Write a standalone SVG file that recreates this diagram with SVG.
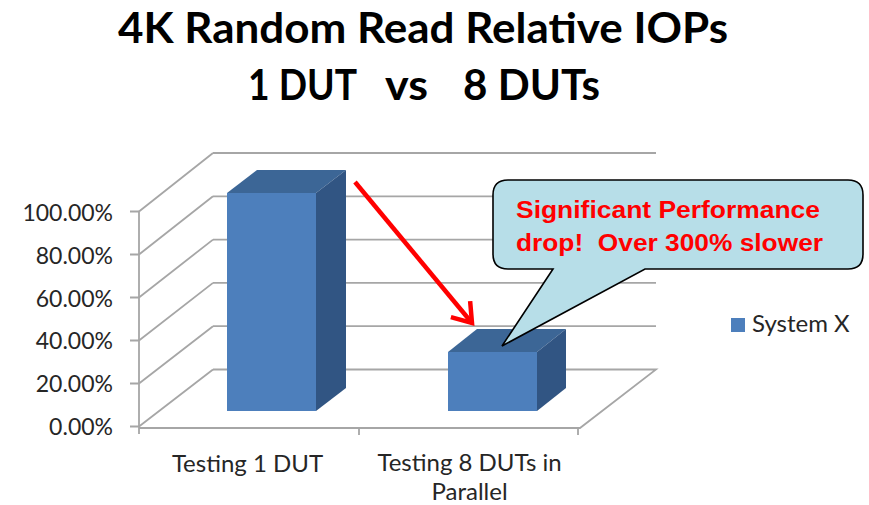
<svg xmlns="http://www.w3.org/2000/svg" width="869" height="505" viewBox="0 0 869 505">
<style>
.title{font-family:Lato,"Liberation Sans",sans-serif;font-weight:bold;font-size:42px;fill:#000}
.ax{font-family:Lato,"Liberation Sans",sans-serif;font-size:23px;fill:#262626}
.cat{font-family:Lato,"Liberation Sans",sans-serif;font-size:24px;fill:#262626}
.grid{stroke:#A6A6A6;stroke-width:1.8;fill:none}
.front{fill:#4D7FBC}
.top{fill:#3C6696}
.side{fill:#315583}
.call{font-family:"Liberation Sans",Arial,sans-serif;font-weight:bold;font-size:23px;fill:#FF0000}
</style>
<defs>
<marker id="ah" markerWidth="12" markerHeight="12" refX="10" refY="6" orient="auto" markerUnits="userSpaceOnUse" viewBox="0 0 12 12" overflow="visible">
<path d="M -8,-6.5 L 10,6 L -8,18.5" fill="none" stroke="#FF0000" stroke-width="4.5" stroke-linejoin="miter"/>
</marker>
</defs>
<rect width="869" height="505" fill="#fff"/>
<g id="title">
<text class="title" x="423" y="43" text-anchor="middle" textLength="610" lengthAdjust="spacingAndGlyphs">4K Random Read Relative IOPs</text>
<text class="title" y="100"><tspan x="248" textLength="109" lengthAdjust="spacingAndGlyphs">1 DUT</tspan><tspan x="385" textLength="43" lengthAdjust="spacingAndGlyphs">vs</tspan><tspan x="463" textLength="137" lengthAdjust="spacingAndGlyphs">8 DUTs</tspan></text>
</g>
<g id="axes">
<path class="grid" d="M213,153 H656 M213,196.3 H656 M213,239.6 H656 M213,282.9 H656 M213,326.2 H656 M213,369.5 H656 L580,428 H139"/>
<path class="grid" d="M139,211.5 L213,153 M139,254.5 L213,196.3 M139,297.5 L213,239.6 M139,340.5 L213,282.9 M139,383.5 L213,326.2 M139,426.5 L213,369.5"/>
<path class="grid" d="M139,211 V434 M130,211.5 H139 M130,254.5 H139 M130,297.5 H139 M130,340.5 H139 M130,383.5 H139 M130,426.5 H139 M359,428 V435 M578,428 V435"/>
<text class="ax" x="113" y="221" text-anchor="end">100.00%</text>
<text class="ax" x="113" y="264" text-anchor="end">80.00%</text>
<text class="ax" x="113" y="307" text-anchor="end">60.00%</text>
<text class="ax" x="113" y="349" text-anchor="end">40.00%</text>
<text class="ax" x="113" y="392" text-anchor="end">20.00%</text>
<text class="ax" x="113" y="435" text-anchor="end">0.00%</text>
<text class="cat" x="247.5" y="472" text-anchor="middle">Testing 1 DUT</text>
<text class="cat" x="469.5" y="471" text-anchor="middle">Testing 8 DUTs in</text>
<text class="cat" x="469.5" y="500" text-anchor="middle">Parallel</text>
</g>
<g id="bar1">
<polygon class="top" points="227,193 316,193 346,170 257,170"/>
<polygon class="side" points="316,193 346,170 346,388 316,411"/>
<rect class="front" x="227" y="193" width="89" height="218"/>
</g>
<g id="bar2">
<polygon class="top" points="448,352 537,352 566,329 477,329"/>
<polygon class="side" points="537,352 566,329 566,388 537,411"/>
<rect class="front" x="448" y="352" width="89" height="59"/>
</g>
<g id="callout">
<path d="M508,180 H848 Q863,180 863,195 V254 Q863,269 848,269 H645 L502,346 L553,269 H508 Q493,269 493,254 V195 Q493,180 508,180 Z" fill="#B7DEE8" stroke="#000" stroke-width="1.6"/>
<text class="call" x="516" y="218" textLength="304" lengthAdjust="spacingAndGlyphs">Significant Performance</text>
<text class="call" x="516" y="251" textLength="307" lengthAdjust="spacingAndGlyphs" xml:space="preserve">drop!  Over 300% slower</text>
</g>
<g id="legend">
<rect x="731" y="318" width="14" height="14" fill="#4D7FBC"/>
<text class="cat" x="752" y="332" font-size="22">System X</text>
</g>
<g id="connectors">
<line x1="355" y1="182" x2="472" y2="323" stroke="#FF0000" stroke-width="4.5" marker-end="url(#ah)"/>
</g>
</svg>
